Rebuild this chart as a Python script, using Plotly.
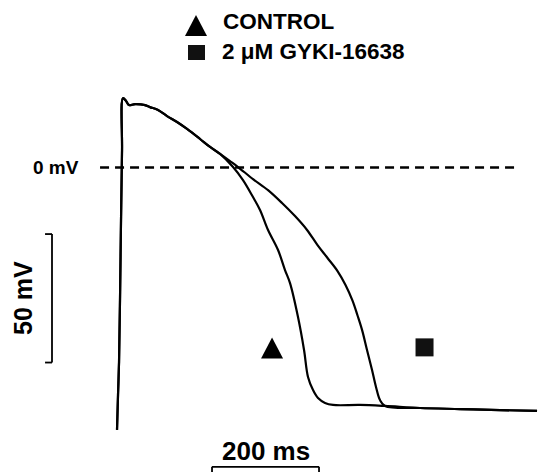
import plotly.graph_objects as go

# ---- data (time in ms, membrane potential in mV) ----
shared_t = [-1.9, 0.0, 1.9, 3.7, 5.6, 7.5, 9.3, 15.0, 20.6, 31.8, 50.5, 59.8, 74.8,
            91.6, 110.3, 129.0, 153.3, 172.0, 190.7]
shared_v = [-102.1, -88.5, -75.7, -51.6, -20.4, 6.8, 27.0, 25.9, 24.3, 24.7, 24.3, 23.5, 22.4,
            20.0, 17.7, 15.0, 11.1, 8.0, 5.3]

control_t = [215.0, 233.6, 252.3, 265.4, 280.4, 299.1, 312.1, 321.5, 336.4, 347.7, 355.1,
             364.5, 373.8, 386.9, 401.9, 452.3, 499.1, 564.5, 639.3, 714.0, 783.2]
control_v = [0.2, -4.9, -11.5, -16.5, -24.3, -32.1, -39.9, -45.0, -58.2, -71.0, -81.5,
             -86.6, -89.7, -91.6, -92.4, -92.4, -92.8, -93.6, -94.0, -94.4, -94.7]

gyki_t = [209.3, 224.3, 252.3, 280.4, 306.5, 330.8, 353.3, 372.9, 391.6, 410.3, 425.2,
          438.3, 447.7, 456.1, 465.4, 474.8, 482.2, 489.7, 499.1, 564.5, 639.3, 714.0, 783.2]
gyki_v = [2.5, 0.2, -4.5, -8.8, -13.8, -18.9, -24.3, -30.2, -35.2, -40.3, -45.7,
          -51.8, -57.6, -63.2, -71.0, -78.8, -85.4, -90.5, -92.8, -93.6, -94.0, -94.4, -94.7]

series_names = ["CONTROL", "2 \u03bcM GYKI-16638"]
marker_t = [287.9, 572.9]
marker_v = [-70.2, -70.0]

zero_line_t = [-33.6, 751.4]
scale_v_t = -123.4
scale_v_range = [-25.9, -75.9]      # 50 mV
scale_t_range = [175.7, 375.7]      # 200 ms
scale_t_v = -116.5

X_RANGE = [-220.6, 785.0]
Y_RANGE = [-118.5, 65.2]

W, H = 538, 472
def px(x):
    return x / W
def py(y):
    return 1 - y / H

TRI_PATH = "M -11,-10.5 L 11,-10.5 L 0,10.5 Z"   # pixel-sized triangle glyph

fig = go.Figure()

line_style = dict(color="black", width=2.2)
fig.add_trace(go.Scatter(x=shared_t + control_t, y=shared_v + control_v, mode="lines",
                         line=line_style, line_shape="spline", name=series_names[0],
                         showlegend=False, hoverinfo="skip"))
fig.add_trace(go.Scatter(x=shared_t + gyki_t, y=shared_v + gyki_v, mode="lines",
                         line=line_style, line_shape="spline", name=series_names[1],
                         showlegend=False, hoverinfo="skip"))

# in-plot markers: triangle (control) and square (GYKI)
fig.add_shape(type="path", xref="x", yref="y", xsizemode="pixel", ysizemode="pixel",
              xanchor=marker_t[0], yanchor=marker_v[0], path=TRI_PATH,
              fillcolor="black", line=dict(width=0))
fig.add_trace(go.Scatter(x=[marker_t[1]], y=[marker_v[1]], mode="markers",
                         marker=dict(symbol="square", size=18, color="#111", line=dict(width=0)),
                         showlegend=False, hoverinfo="skip"))

# zero-mV dashed line
fig.add_shape(type="line", x0=zero_line_t[0], x1=zero_line_t[1], y0=0, y1=0,
              line=dict(color="black", width=2.5, dash="9px,6px"))

# 50 mV vertical scale bar (bracket with ticks to the left)
sb = dict(color="black", width=1.8)
fig.add_shape(type="line", x0=scale_v_t, x1=scale_v_t, y0=scale_v_range[0], y1=scale_v_range[1], line=sb)
fig.add_shape(type="line", x0=scale_v_t - 13, x1=scale_v_t, y0=scale_v_range[0], y1=scale_v_range[0], line=sb)
fig.add_shape(type="line", x0=scale_v_t - 13, x1=scale_v_t, y0=scale_v_range[1], y1=scale_v_range[1], line=sb)

# 200 ms horizontal scale bar (ticks downward)
fig.add_shape(type="line", x0=scale_t_range[0], x1=scale_t_range[1], y0=scale_t_v, y1=scale_t_v, line=sb)
fig.add_shape(type="line", x0=scale_t_range[0], x1=scale_t_range[0], y0=scale_t_v, y1=Y_RANGE[0], line=sb)
fig.add_shape(type="line", x0=scale_t_range[1], x1=scale_t_range[1], y0=scale_t_v, y1=Y_RANGE[0], line=sb)

FONT = "Liberation Sans, Arial, Helvetica, sans-serif"

# legend glyphs (drawn manually)
fig.add_shape(type="path", xref="paper", yref="paper", xsizemode="pixel", ysizemode="pixel",
              xanchor=px(196), yanchor=py(25.5), path=TRI_PATH,
              fillcolor="black", line=dict(width=0))
fig.add_shape(type="rect", xref="paper", yref="paper", xsizemode="pixel", ysizemode="pixel",
              xanchor=px(196.5), yanchor=py(52.5), x0=-8.5, x1=8.5, y0=-7.5, y1=7.5,
              fillcolor="#111", line=dict(width=0))

annotations = [
    dict(text="<b>" + series_names[0] + "</b>", x=px(221), y=py(22), xanchor="left", yanchor="middle",
         font=dict(size=22.5)),
    dict(text="<b>" + series_names[1] + "</b>", x=px(220), y=py(51), xanchor="left", yanchor="middle",
         font=dict(size=22.5)),
    dict(text="<b>0 mV</b>", x=px(81), y=py(168), xanchor="right", yanchor="middle",
         font=dict(size=19)),
    dict(text="<b>50 mV</b>", x=px(23), y=py(298), xanchor="center", yanchor="middle",
         textangle=-90, font=dict(size=25)),
    dict(text="<b>200 ms</b>", x=px(266), y=py(451), xanchor="center", yanchor="middle",
         font=dict(size=26)),
]
for a in annotations:
    a.update(xref="paper", yref="paper", showarrow=False)
    a["font"].update(family=FONT, color="black")

fig.update_layout(
    width=W, height=H,
    margin=dict(l=0, r=0, t=0, b=0),
    paper_bgcolor="white", plot_bgcolor="white",
    xaxis=dict(range=X_RANGE, visible=False, fixedrange=True),
    yaxis=dict(range=Y_RANGE, visible=False, fixedrange=True),
    annotations=annotations,
    showlegend=False,
)

fig.write_html(
    "out.html",
    config={"displayModeBar": False, "staticPlot": True},
    post_script="document.body.style.margin='0';document.body.style.overflow='hidden';",
)
